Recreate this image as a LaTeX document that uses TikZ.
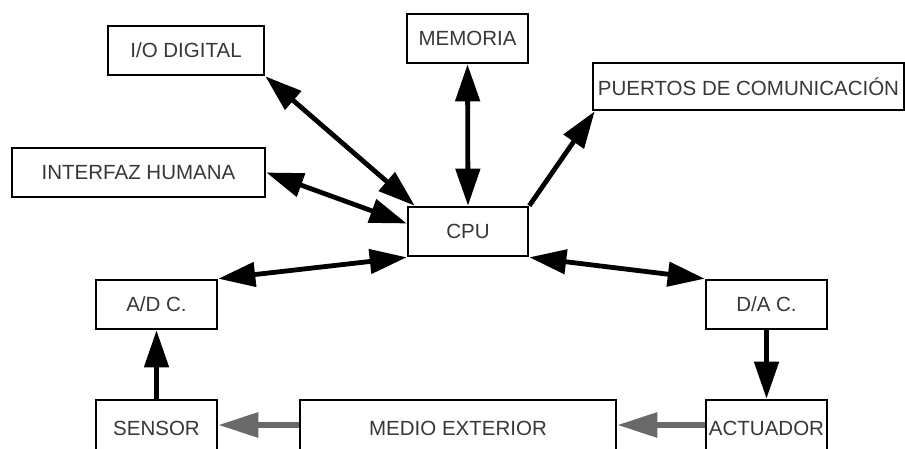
\documentclass[tikz,border=0pt]{standalone}
\usepackage{fontspec}
\setmainfont{Liberation Sans}
\usetikzlibrary{arrows.meta}
\definecolor{txt}{RGB}{55,55,60}
\definecolor{grayarrow}{RGB}{105,105,105}
\tikzset{
  box/.style={draw=black, line width=2.6pt, fill=white, inner sep=0pt,
    minimum height=49pt, text=txt, font=\fontsize{20.5}{23}\selectfont},
  dbl/.style={line width=4.8pt, {Triangle[length=37pt,width=24pt]}-{Triangle[length=37pt,width=24pt]}},
  sgl/.style={line width=4.8pt, -{Triangle[length=37pt,width=24pt]}},
  gry/.style={line width=6pt, draw=grayarrow, -{Triangle[length=40pt,width=24pt]}, grayarrow}
}
\begin{document}
\begin{tikzpicture}[x=1pt,y=-1pt]
\useasboundingbox (0,0) rectangle (905,449);
\clip (0,0) rectangle (905,449);
\fill[white] (0,0) rectangle (905,449);
\node[box, minimum width=156pt] (io) at (186,50.5) {I/O DIGITAL};
\node[box, minimum width=253pt] (hum) at (138.5,172.5) {INTERFAZ HUMANA};
\node[box, minimum width=121pt] (mem) at (467.5,38.5) {MEMORIA};
\node[box, minimum width=311pt, minimum height=47pt] (pue) at (748.5,86.5) {PUERTOS DE COMUNICACIÓN};
\node[box, minimum width=120pt] (cpu) at (468,231.5) {CPU};
\node[box, minimum width=121pt] (ad) at (156.5,304.5) {A/D C.};
\node[box, minimum width=121pt] (da) at (766.5,304.5) {D/A C.};
\node[box, minimum width=121pt, minimum height=56pt] (sen) at (156.5,428) {SENSOR};
\node[box, minimum width=316pt, minimum height=56pt] (med) at (458,428) {MEDIO EXTERIOR};
\node[box, minimum width=121pt, minimum height=56pt] (act) at (766.5,428) {ACTUADOR};
\draw[dbl] (io.south east) -- ([xshift=8pt]cpu.north west);
\draw[dbl] (hum.east) -- ([yshift=8pt]cpu.west);
\draw[dbl] (mem.south) -- (cpu.north);
\draw[sgl] (cpu.north east) -- ([xshift=3pt]pue.south west);
\draw[dbl] (ad.north east) -- (cpu.south west);
\draw[dbl] (cpu.south east) -- (da.north west);
\draw[sgl] (da.south) -- (act.north);
\draw[sgl] (sen.north) -- (ad.south);
\draw[gry] ([yshift=3pt]act.west) -- ([yshift=3pt]med.east);
\draw[gry] ([yshift=3pt]med.west) -- ([yshift=3pt]sen.east);
\end{tikzpicture}
\end{document}
